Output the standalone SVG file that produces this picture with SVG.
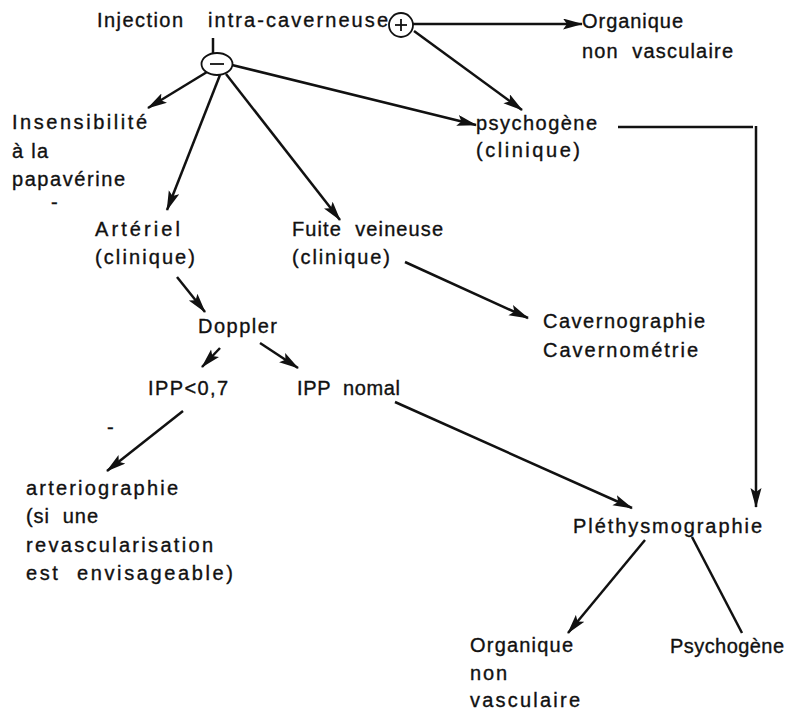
<svg xmlns="http://www.w3.org/2000/svg" width="792" height="711" viewBox="0 0 792 711">
<style>
text{font-family:"Liberation Sans",Arial,Helvetica,sans-serif;font-size:20px;fill:#111;stroke:#111;stroke-width:0.35;white-space:pre;}
.c{fill:none;stroke:#111;stroke-width:2.5;}
.a{fill:none;stroke:#111;stroke-width:2.5;marker-end:url(#ah);}
.sym{fill:#fff;stroke:#111;stroke-width:1.8;}
.s{stroke:#111;stroke-width:1.8;}
</style>
<defs>
<marker id="ah" markerUnits="userSpaceOnUse" markerWidth="22" markerHeight="12" refX="19" refY="5.5" orient="auto">
<path d="M0,0 L20,5.5 L0,11 L4,5.5 z" fill="#111"/>
</marker>
</defs>
<rect width="792" height="711" fill="#fff"/>
<g id="connectors">
<line class="c" x1="213" y1="38" x2="213" y2="53"/>
<line class="a" x1="207" y1="72" x2="148" y2="108"/>
<line class="a" x1="220" y1="75" x2="167" y2="210"/>
<line class="a" x1="226" y1="74" x2="340" y2="220"/>
<line class="a" x1="232" y1="65" x2="476" y2="125"/>
<line class="a" x1="413" y1="24" x2="582" y2="24"/>
<line class="a" x1="414" y1="31" x2="522" y2="110"/>
<line class="a" x1="177" y1="277" x2="205" y2="312"/>
<line class="a" x1="405" y1="262" x2="528" y2="318"/>
<line class="a" x1="220" y1="348" x2="202" y2="367"/>
<line class="a" x1="260" y1="343" x2="298" y2="368"/>
<line class="a" x1="183" y1="411" x2="107" y2="471"/>
<line class="a" x1="395" y1="402" x2="632" y2="508"/>
<line class="c" x1="618" y1="127" x2="753" y2="127"/>
<line class="a" x1="756" y1="126" x2="756" y2="507"/>
<line class="a" x1="645" y1="540" x2="568" y2="633"/>
<line class="c" x1="692" y1="537" x2="742" y2="633"/>
</g>
<g id="n-injection">
<text x="97" y="27" textLength="86" lengthAdjust="spacing">Injection</text>
<text x="208" y="27" textLength="180" lengthAdjust="spacing">intra-caverneuse</text>
</g>
<g id="n-plus">
<circle class="sym" cx="401" cy="25" r="12"/>
<line class="s" x1="395" y1="25" x2="407" y2="25"/>
<line class="s" x1="401" y1="19" x2="401" y2="31"/>
</g>
<g id="n-minus">
<ellipse class="sym" cx="217" cy="64" rx="15.5" ry="11"/>
<line class="s" x1="210" y1="64" x2="224" y2="64"/>
</g>
<g id="n-organique-top">
<text x="582" y="28" textLength="101" lengthAdjust="spacing">Organique</text>
<text x="582" y="58" textLength="151" lengthAdjust="spacing">non  vasculaire</text>
</g>
<g id="n-psychogene-clin">
<text x="476" y="130" textLength="121" lengthAdjust="spacing">psychogène</text>
<text x="476" y="157" textLength="104" lengthAdjust="spacing">(clinique)</text>
</g>
<g id="n-insensibilite">
<text x="12" y="129" textLength="135" lengthAdjust="spacing">Insensibilité</text>
<text x="12" y="158" textLength="36" lengthAdjust="spacing">à la</text>
<text x="12" y="186" textLength="113" lengthAdjust="spacing">papavérine</text>
<text x="51" y="209">-</text>
</g>
<g id="n-arteriel">
<text x="95" y="236" textLength="85" lengthAdjust="spacing">Artériel</text>
<text x="95" y="264" textLength="100" lengthAdjust="spacing">(clinique)</text>
</g>
<g id="n-fuite">
<text x="292" y="236" textLength="151" lengthAdjust="spacing">Fuite  veineuse</text>
<text x="292" y="264" textLength="98" lengthAdjust="spacing">(clinique)</text>
</g>
<g id="n-doppler">
<text x="198" y="333" textLength="79" lengthAdjust="spacing">Doppler</text>
</g>
<g id="n-caverno">
<text x="543" y="328" textLength="162" lengthAdjust="spacing">Cavernographie</text>
<text x="543" y="357" textLength="155" lengthAdjust="spacing">Cavernométrie</text>
</g>
<g id="n-ipp-low">
<text x="148" y="395" textLength="80" lengthAdjust="spacing">IPP&lt;0,7</text>
<text x="107" y="434">-</text>
</g>
<g id="n-ipp-normal">
<text x="297" y="395" textLength="103" lengthAdjust="spacing">IPP  nomal</text>
</g>
<g id="n-arteriographie">
<text x="26" y="495" textLength="152" lengthAdjust="spacing">arteriographie</text>
<text x="26" y="523" textLength="72" lengthAdjust="spacing">(si  une</text>
<text x="26" y="552" textLength="187" lengthAdjust="spacing">revascularisation</text>
<text x="26" y="580" textLength="207" lengthAdjust="spacing">est  envisageable)</text>
</g>
<g id="n-plethysmographie">
<text x="573" y="533" textLength="189" lengthAdjust="spacing">Pléthysmographie</text>
</g>
<g id="n-organique-bottom">
<text x="470" y="652" textLength="103" lengthAdjust="spacing">Organique</text>
<text x="470" y="680" textLength="37" lengthAdjust="spacing">non</text>
<text x="470" y="707" textLength="110" lengthAdjust="spacing">vasculaire</text>
</g>
<g id="n-psychogene">
<text x="670" y="653" textLength="114" lengthAdjust="spacing">Psychogène</text>
</g>
</svg>
